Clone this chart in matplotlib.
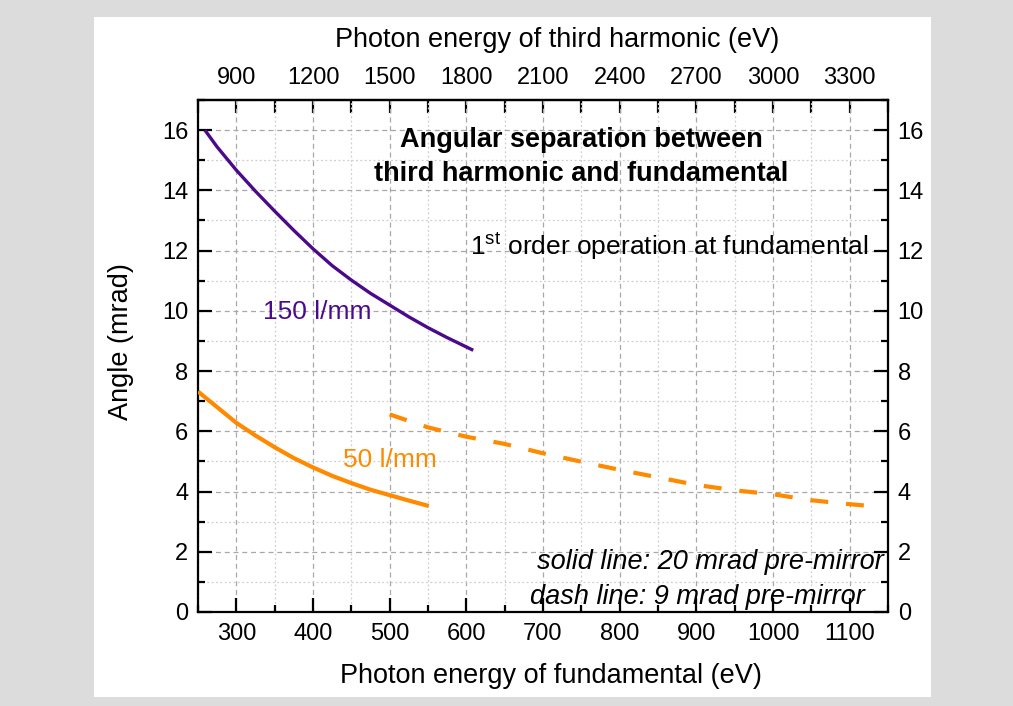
import matplotlib
matplotlib.use("Agg")
import matplotlib.pyplot as plt
from matplotlib.ticker import MultipleLocator
from matplotlib.patches import Rectangle

plt.rcParams['font.family'] = ['Liberation Sans', 'DejaVu Sans']

# ---- data ----
e_150 = [259, 275, 300, 325, 350, 375, 400, 425, 450, 475, 500, 525, 550, 575, 609]
a_150 = [16.0, 15.44, 14.67, 13.97, 13.31, 12.67, 12.06, 11.5, 11.02, 10.58, 10.19,
         9.8, 9.44, 9.11, 8.69]

e_50_solid = [250, 275, 300, 325, 350, 375, 400, 425, 450, 475, 500, 525, 551]
a_50_solid = [7.32, 6.8, 6.28, 5.86, 5.47, 5.11, 4.8, 4.52, 4.28, 4.06, 3.88, 3.7, 3.52]

e_50_dash = [500, 550, 600, 650, 700, 750, 800, 850, 900, 950, 1000, 1050, 1100, 1131]
a_50_dash = [6.56, 6.13, 5.82, 5.58, 5.27, 4.99, 4.72, 4.47, 4.22, 4.04, 3.91, 3.71, 3.58, 3.51]

bottom_ticks = [300, 400, 500, 600, 700, 800, 900, 1000, 1100]
top_ticks = [900, 1200, 1500, 1800, 2100, 2400, 2700, 3000, 3300]
y_ticks = [0, 2, 4, 6, 8, 10, 12, 14, 16]

PURPLE = '#4B0A8C'
ORANGE = '#FF8A00'

W, H = 1013, 706
fig = plt.figure(figsize=(W / 100, H / 100), dpi=100)
fig.patch.set_facecolor('#dcdcdc')
fig.patches.append(Rectangle((94 / W, 1 - 697 / H), (931 - 94) / W, (697 - 17) / H,
                             transform=fig.transFigure, facecolor='white', edgecolor='none', zorder=-5))

ax = fig.add_axes([198 / W, 1 - 612 / H, (888 - 198) / W, (612 - 100) / H])
ax.set_xlim(250, 1150)
ax.set_ylim(0, 17)

ax.plot(e_150, a_150, color=PURPLE, lw=2.4, solid_capstyle='butt', solid_joinstyle='round', zorder=3)
ax.plot(e_50_solid, a_50_solid, color=ORANGE, lw=3, solid_capstyle='butt', solid_joinstyle='round', zorder=3)
ax.plot(e_50_dash, a_50_dash, color=ORANGE, lw=3, linestyle=(0, (4.3, 4.3)),
        dash_capstyle='butt', zorder=3)

ax.set_xticks(bottom_ticks)
ax.xaxis.set_minor_locator(MultipleLocator(50))
ax.set_yticks(y_ticks)
ax.yaxis.set_minor_locator(MultipleLocator(1))

ax.grid(which='major', color='#a8a8a8', linestyle=(0, (4, 3)), lw=0.9)
ax.grid(which='minor', color='#cfcfcf', linestyle=(0, (1.5, 2)), lw=0.9)
ax.set_axisbelow(True)

for s in ax.spines.values():
    s.set_linewidth(1.6)

ax.tick_params(which='major', direction='in', length=10, width=1.6, labelsize=17,
               right=True, labelright=True, pad=7)
ax.tick_params(which='minor', direction='in', length=5, width=1.6, right=True)
ax.tick_params(axis='x', which='major', pad=8)

ax.set_xlabel('Photon energy of fundamental (eV)', fontsize=19.5, labelpad=13)
ax.set_ylabel('Angle (mrad)', fontsize=19.5, labelpad=20)
ax.xaxis.label.set_x(0.512)
ax.yaxis.label.set_y(0.529)

top = ax.secondary_xaxis('top', functions=(lambda x: x * 3, lambda x: x / 3))
top.set_xticks(top_ticks)
top.xaxis.set_minor_locator(MultipleLocator(150))
top.tick_params(which='major', direction='in', length=9, width=1.6, labelsize=17, pad=8)
top.tick_params(which='minor', direction='in', length=9, width=1.6)
top.spines['top'].set_linewidth(1.6)
top.set_xlabel('Photon energy of third harmonic (eV)', fontsize=19.5, labelpad=14)
top.xaxis.label.set_x(0.52)

ax.text(0.555, 0.889, 'Angular separation between\nthird harmonic and fundamental',
        transform=ax.transAxes, ha='center', va='center', fontsize=19.5,
        fontweight='bold', linespacing=1.42)
ax.text(0.971, 0.715, r'1$^{\mathregular{st}}$ order operation at fundamental',
        transform=ax.transAxes, ha='right', va='center', fontsize=19)
ax.text(0.094, 0.586, '150 l/mm', transform=ax.transAxes, ha='left', va='center',
        fontsize=19, color=PURPLE)
ax.text(0.21, 0.297, '50 l/mm', transform=ax.transAxes, ha='left', va='center',
        fontsize=19, color=ORANGE)
ax.text(0.994, 0.098, 'solid line: 20 mrad pre-mirror', transform=ax.transAxes,
        ha='right', va='center', fontsize=19.5, style='italic')
ax.text(0.967, 0.029, 'dash line: 9 mrad pre-mirror', transform=ax.transAxes,
        ha='right', va='center', fontsize=19.5, style='italic')

fig.savefig('out.png', dpi=100, facecolor=fig.get_facecolor())
